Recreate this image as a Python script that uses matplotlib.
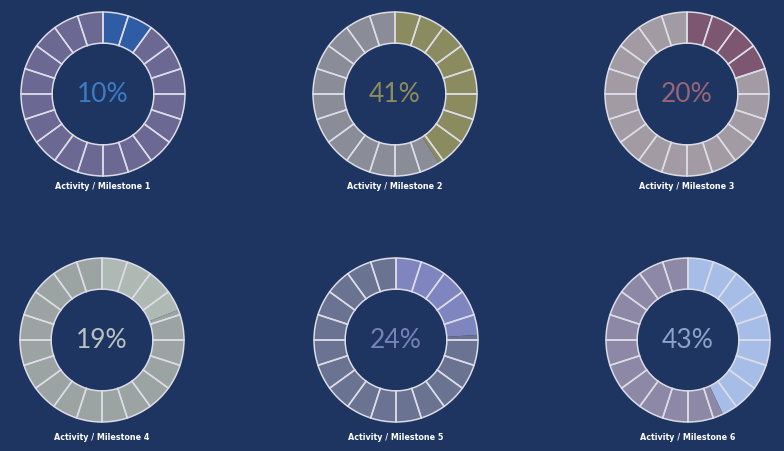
import matplotlib
matplotlib.use("Agg")
import matplotlib.pyplot as plt

# progress per activity (percent)
labels = ["Activity / Milestone 1", "Activity / Milestone 2", "Activity / Milestone 3",
          "Activity / Milestone 4", "Activity / Milestone 5", "Activity / Milestone 6"]
values = [10, 41, 20, 19, 24, 43]
done_colors = ["#2E5DA6", "#8A8B5E", "#7D5671", "#AFB9B4", "#7F85BF", "#A6BDE8"]
rest_colors = ["#6B6893", "#8A8C97", "#A39BA4", "#9CA4A3", "#6B7393", "#8E88A7"]
text_colors = ["#3B7CC6", "#8E8B5C", "#9A6578", "#B8C2C0", "#7880B8", "#8DA1C9"]
n_segments = 20

bg = "#1E3461"
W, H = 784, 451
fig = plt.figure(figsize=(W / 100, H / 100), dpi=100, facecolor=bg)

centers = [(103, 94), (395, 94), (687, 94), (102, 340), (396, 340), (688, 340)]
R = 82  # outer radius in px
lab_y = [187, 187, 187, 437, 437, 437]

for i in range(6):
    cx, cy = centers[i]
    s = R * 1.03
    ax = fig.add_axes([(cx - s) / W, 1 - (cy + s) / H, 2 * s / W, 2 * s / H])
    ax.pie([values[i], 100 - values[i]], colors=[done_colors[i], rest_colors[i]],
           startangle=90, counterclock=False, radius=1,
           wedgeprops=dict(width=0.38, edgecolor="none"))
    ax.pie([1] * n_segments, startangle=90, counterclock=False, radius=1,
           wedgeprops=dict(width=0.38, fill=False, edgecolor="#DCDCE6", linewidth=1.1))
    ax.text(0, 0, f"{values[i]}%", ha="center", va="center", fontsize=19,
            color=text_colors[i], family="Lato")
    ax.set_xlim(-1.03, 1.03)
    ax.set_ylim(-1.03, 1.03)
    ax.set_aspect("equal")
    ax.axis("off")
    fig.text(cx / W, 1 - lab_y[i] / H, labels[i], ha="center", va="center",
             fontsize=5.8, fontweight="bold", color="white", family="DejaVu Sans")

fig.savefig("out.png", dpi=100, facecolor=bg)
